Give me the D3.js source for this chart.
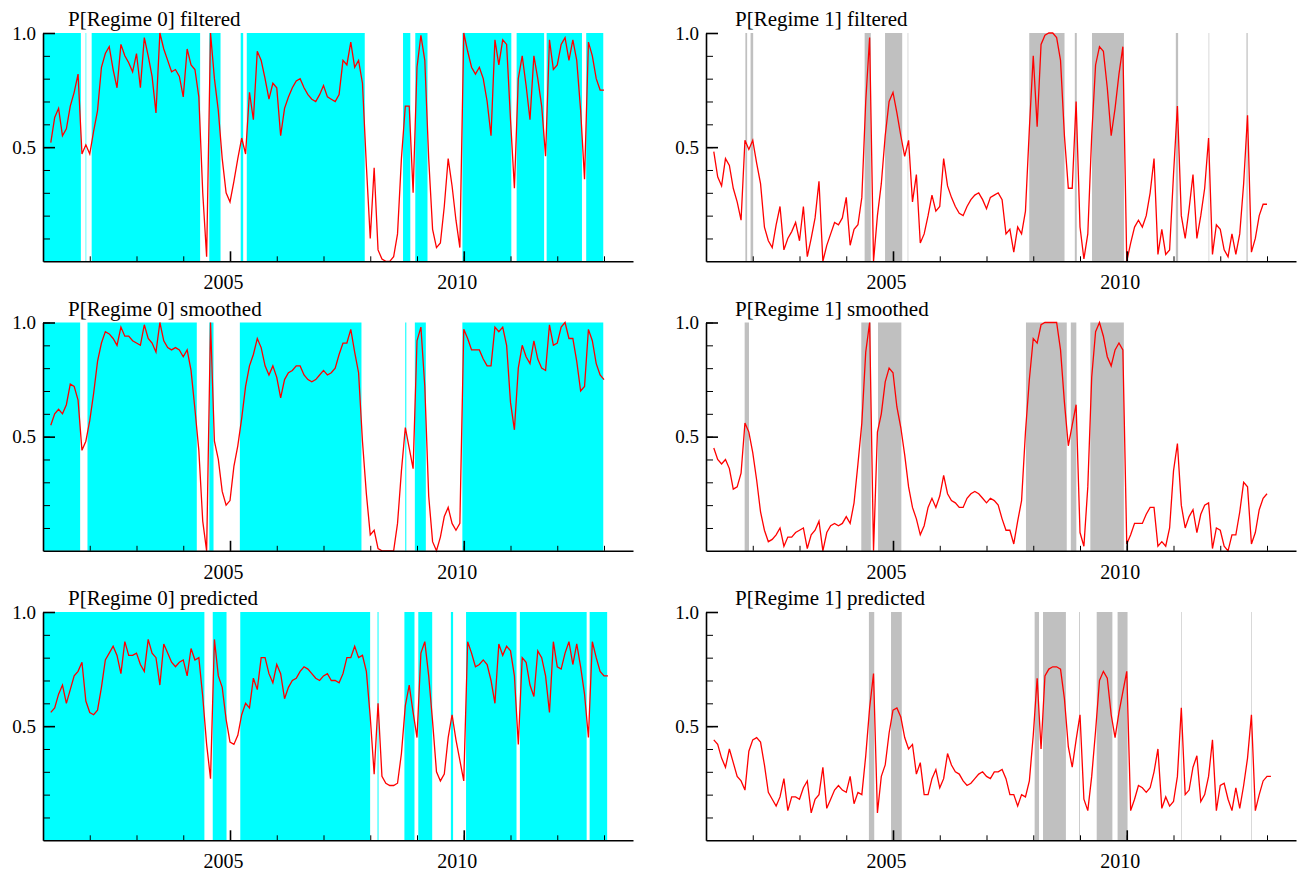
<!DOCTYPE html>
<html>
<head>
<meta charset="utf-8">
<script src="https://cdn.jsdelivr.net/npm/d3@7"></script>
<style>
  body { margin: 0; background: #fff; }
  text { font-family: "Liberation Serif", "Times New Roman", serif; fill: #000; }
</style>
</head>
<body>
<div id="plot"></div>
<script>
// monthly observations, first one is 2001(3)
const firstYear = 2001, firstMonth = 3;

const filtered0 = [
  0.52,0.63,0.67,0.55,0.58,0.68,0.74,0.82,0.47,0.51,
  0.47,0.57,0.66,0.85,0.91,0.94,0.84,0.76,0.95,0.90,
  0.87,0.83,0.91,0.76,0.98,0.90,0.81,0.65,1.00,0.93,
  0.88,0.83,0.84,0.81,0.72,0.93,0.86,0.84,0.72,0.30,
  0.02,1.00,0.80,0.66,0.45,0.30,0.26,0.35,0.45,0.54,
  0.47,0.74,0.62,0.92,0.88,0.80,0.71,0.78,0.76,0.55,
  0.67,0.72,0.76,0.79,0.80,0.76,0.73,0.71,0.70,0.73,
  0.77,0.72,0.71,0.70,0.73,0.88,0.86,0.96,0.85,0.88,
  0.78,0.42,0.10,0.41,0.05,0.01,0.00,0.00,0.02,0.12,
  0.45,0.68,0.68,0.30,0.85,0.99,0.88,0.45,0.14,0.06,
  0.08,0.24,0.45,0.33,0.18,0.06,1.00,0.92,0.85,0.82,
  0.85,0.80,0.70,0.55,0.97,0.86,0.97,0.95,0.62,0.32,
  0.80,0.90,0.77,0.62,0.90,0.80,0.68,0.46,0.97,0.84,
  0.86,0.95,0.98,0.88,0.97,0.88,0.66,0.36,0.96,0.90,
  0.80,0.75,0.75
];
const filtered1 = [
  0.48,0.37,0.33,0.45,0.42,0.32,0.26,0.18,0.53,0.49,
  0.53,0.43,0.34,0.15,0.09,0.06,0.16,0.24,0.05,0.10,
  0.13,0.17,0.09,0.24,0.02,0.10,0.19,0.35,0.00,0.07,
  0.12,0.17,0.16,0.19,0.28,0.07,0.14,0.16,0.28,0.70,
  0.98,0.00,0.20,0.34,0.55,0.70,0.74,0.65,0.55,0.46,
  0.53,0.26,0.38,0.08,0.12,0.20,0.29,0.22,0.24,0.45,
  0.33,0.28,0.24,0.21,0.20,0.24,0.27,0.29,0.30,0.27,
  0.23,0.28,0.29,0.30,0.27,0.12,0.14,0.04,0.15,0.12,
  0.22,0.58,0.90,0.59,0.95,0.99,1.00,1.00,0.98,0.88,
  0.55,0.32,0.32,0.70,0.15,0.01,0.12,0.55,0.86,0.94,
  0.92,0.76,0.55,0.67,0.82,0.94,0.00,0.08,0.15,0.18,
  0.15,0.20,0.30,0.45,0.03,0.14,0.03,0.05,0.38,0.68,
  0.20,0.10,0.23,0.38,0.10,0.20,0.32,0.54,0.03,0.16,
  0.14,0.05,0.02,0.12,0.03,0.12,0.34,0.64,0.04,0.10,
  0.20,0.25,0.25
];

const smoothed0 = [
  0.55,0.60,0.62,0.60,0.64,0.73,0.72,0.66,0.44,0.48,
  0.57,0.69,0.83,0.91,0.96,0.95,0.93,0.90,0.98,0.94,
  0.94,0.92,0.91,0.90,0.99,0.93,0.91,0.87,1.00,0.92,
  0.89,0.88,0.89,0.88,0.85,0.88,0.79,0.62,0.44,0.13,
  0.00,1.00,0.48,0.40,0.26,0.20,0.22,0.37,0.46,0.58,
  0.72,0.81,0.86,0.93,0.89,0.81,0.77,0.81,0.76,0.67,
  0.75,0.78,0.79,0.81,0.81,0.77,0.75,0.74,0.75,0.77,
  0.79,0.77,0.78,0.80,0.86,0.91,0.91,0.97,0.87,0.78,
  0.48,0.25,0.07,0.09,0.01,0.00,0.00,0.00,0.00,0.12,
  0.35,0.54,0.45,0.36,0.92,0.98,0.72,0.24,0.04,0.00,
  0.06,0.15,0.19,0.12,0.09,0.12,0.97,0.93,0.88,0.88,
  0.88,0.84,0.81,0.81,0.98,0.96,0.98,0.90,0.65,0.53,
  0.80,0.90,0.85,0.82,0.92,0.84,0.80,0.79,0.99,0.90,
  0.91,0.98,1.00,0.93,0.93,0.83,0.70,0.72,0.97,0.92,
  0.82,0.77,0.75
];
const smoothed1 = [
  0.45,0.40,0.38,0.40,0.36,0.27,0.28,0.34,0.56,0.52,
  0.43,0.31,0.17,0.09,0.04,0.05,0.07,0.10,0.02,0.06,
  0.06,0.08,0.09,0.10,0.01,0.07,0.09,0.13,0.00,0.08,
  0.11,0.12,0.11,0.12,0.15,0.12,0.21,0.38,0.56,0.87,
  1.00,0.00,0.52,0.60,0.74,0.80,0.78,0.63,0.54,0.42,
  0.28,0.19,0.14,0.07,0.11,0.19,0.23,0.19,0.24,0.33,
  0.25,0.22,0.21,0.19,0.19,0.23,0.25,0.26,0.25,0.23,
  0.21,0.23,0.22,0.20,0.14,0.09,0.09,0.03,0.13,0.22,
  0.52,0.75,0.93,0.91,0.99,1.00,1.00,1.00,1.00,0.88,
  0.65,0.46,0.55,0.64,0.08,0.02,0.28,0.76,0.96,1.00,
  0.94,0.85,0.81,0.88,0.91,0.88,0.03,0.07,0.12,0.12,
  0.12,0.16,0.19,0.19,0.02,0.04,0.02,0.10,0.35,0.47,
  0.20,0.10,0.15,0.18,0.08,0.16,0.20,0.21,0.01,0.10,
  0.09,0.02,0.00,0.07,0.07,0.17,0.30,0.28,0.03,0.08,
  0.18,0.23,0.25
];

// predicted has one extra month at the end
const predicted0 = [
  0.56,0.58,0.64,0.68,0.60,0.66,0.72,0.74,0.78,0.61,
  0.56,0.55,0.57,0.67,0.79,0.82,0.85,0.81,0.73,0.87,
  0.81,0.81,0.82,0.77,0.74,0.88,0.82,0.80,0.68,0.86,
  0.82,0.78,0.76,0.78,0.79,0.72,0.84,0.79,0.80,0.63,
  0.42,0.27,0.88,0.72,0.67,0.53,0.43,0.42,0.46,0.55,
  0.60,0.58,0.71,0.66,0.80,0.80,0.73,0.69,0.77,0.73,
  0.62,0.67,0.70,0.71,0.74,0.76,0.75,0.73,0.71,0.70,
  0.72,0.73,0.70,0.70,0.69,0.73,0.80,0.80,0.85,0.80,
  0.81,0.74,0.54,0.29,0.60,0.28,0.25,0.24,0.24,0.25,
  0.38,0.59,0.68,0.56,0.45,0.82,0.87,0.72,0.52,0.30,
  0.26,0.29,0.45,0.55,0.44,0.35,0.26,0.87,0.82,0.76,
  0.77,0.79,0.77,0.70,0.60,0.86,0.81,0.85,0.83,0.72,
  0.42,0.80,0.78,0.68,0.63,0.83,0.80,0.72,0.56,0.87,
  0.76,0.75,0.82,0.87,0.77,0.86,0.76,0.64,0.45,0.87,
  0.80,0.74,0.72,0.72
];
const predicted1 = [
  0.44,0.42,0.36,0.32,0.40,0.34,0.28,0.26,0.22,0.39,
  0.44,0.45,0.43,0.33,0.21,0.18,0.15,0.19,0.27,0.13,
  0.19,0.19,0.18,0.23,0.26,0.12,0.18,0.20,0.32,0.14,
  0.18,0.22,0.24,0.22,0.21,0.28,0.16,0.21,0.20,0.37,
  0.58,0.73,0.12,0.28,0.33,0.47,0.57,0.58,0.54,0.45,
  0.40,0.42,0.29,0.34,0.20,0.20,0.27,0.31,0.23,0.27,
  0.38,0.33,0.30,0.29,0.26,0.24,0.25,0.27,0.29,0.30,
  0.28,0.27,0.30,0.30,0.31,0.27,0.20,0.20,0.15,0.20,
  0.19,0.26,0.46,0.71,0.40,0.72,0.75,0.76,0.76,0.75,
  0.62,0.41,0.32,0.44,0.55,0.18,0.13,0.28,0.48,0.70,
  0.74,0.71,0.55,0.45,0.56,0.65,0.74,0.13,0.18,0.24,
  0.23,0.21,0.23,0.30,0.40,0.14,0.19,0.15,0.17,0.28,
  0.58,0.20,0.22,0.32,0.37,0.17,0.20,0.28,0.44,0.13,
  0.24,0.25,0.18,0.13,0.23,0.14,0.24,0.36,0.55,0.13,
  0.20,0.26,0.28,0.28
];

const xTickLabels = [2005, 2010];
const yTickLabels = [0.5, 1.0];

const panels = [
  {title: "P[Regime 0] filtered",  values: filtered0,  fill: "#00ffff", col: 0, row: 0},
  {title: "P[Regime 1] filtered",  values: filtered1,  fill: "#c0c0c0", col: 1, row: 0},
  {title: "P[Regime 0] smoothed",  values: smoothed0,  fill: "#00ffff", col: 0, row: 1},
  {title: "P[Regime 1] smoothed",  values: smoothed1,  fill: "#c0c0c0", col: 1, row: 1},
  {title: "P[Regime 0] predicted", values: predicted0, fill: "#00ffff", col: 0, row: 2},
  {title: "P[Regime 1] predicted", values: predicted1, fill: "#c0c0c0", col: 1, row: 2}
];

const width = 1308, height = 875;
const colRange = [[43, 633], [706, 1296]];
const titleDx = [25, 29];
const rowTop = [33, 322.5, 612];
const panelH = 228.3;
const xDomain = [2001, 2013.62];

const svg = d3.select("#plot").append("svg")
  .attr("width", width)
  .attr("height", height);

// where the (linearly joined) probability is above one half
function regimeRuns(vals, times) {
  const runs = [];
  let start = vals[0] > 0.5 ? times[0] : null;
  for (let i = 1; i < vals.length; i++) {
    const a = vals[i - 1] > 0.5, b = vals[i] > 0.5;
    if (a === b) continue;
    const f = (0.5 - vals[i - 1]) / (vals[i] - vals[i - 1]);
    const tc = times[i - 1] + f * (times[i] - times[i - 1]);
    if (b) start = tc;
    else { runs.push([start, tc]); start = null; }
  }
  if (start !== null) runs.push([start, times[times.length - 1]]);
  return runs;
}

panels.forEach(p => {
  const x = d3.scaleLinear().domain(xDomain).range(colRange[p.col]);
  const y = d3.scaleLinear().domain([0, 1]).range([rowTop[p.row] + panelH, rowTop[p.row]]);
  const times = p.values.map((v, i) => firstYear + (firstMonth - 1 + i) / 12);

  const g = svg.append("g");

  const left = d => (d[0] === times[0] ? x(xDomain[0]) : x(d[0]) + 0.75);
  const runs = regimeRuns(p.values, times);
  g.selectAll("rect.shade")
    .data(runs)
    .join("rect")
      .attr("class", "shade")
      .attr("x", left)
      .attr("y", y(1))
      .attr("width", d => Math.max(0.6, x(d[1]) - 0.75 - left(d)))
      .attr("height", y(0) - y(1))
      .attr("fill", p.fill);

  const line = d3.line()
    .x((d, i) => x(times[i]))
    .y(d => y(d));

  g.append("path")
    .datum(p.values)
    .attr("d", line)
    .attr("fill", "none")
    .attr("stroke", "#ff0000")
    .attr("stroke-width", 1.3);

  // x axis: yearly minor ticks, labelled majors
  g.append("g")
    .attr("transform", `translate(0,${y(0)})`)
    .call(d3.axisBottom(x)
      .tickValues(d3.range(2002, 2014))
      .tickSizeInner(-5)
      .tickSizeOuter(0)
      .tickFormat(""))
    .call(a => a.select(".domain").attr("stroke-width", 1.6));

  g.append("g")
    .attr("transform", `translate(0,${y(0)})`)
    .call(d3.axisBottom(x)
      .tickValues(xTickLabels)
      .tickSizeInner(-10)
      .tickSizeOuter(0)
      .tickFormat(d3.format("d")))
    .call(a => a.select(".domain").remove())
    .call(a => a.selectAll(".tick line").attr("stroke-width", 1.6))
    .call(a => a.selectAll("text")
      .attr("y", 28).attr("dy", null).attr("x", -7)
      .style("font-size", "20px"));

  // y axis
  g.append("g")
    .attr("transform", `translate(${x(xDomain[0])},0)`)
    .call(d3.axisLeft(y)
      .tickValues(d3.range(1, 11).map(k => k / 10))
      .tickSizeInner(-7)
      .tickSizeOuter(0)
      .tickFormat(""))
    .call(a => a.select(".domain").attr("stroke-width", 1.6));

  g.append("g")
    .attr("transform", `translate(${x(xDomain[0])},0)`)
    .call(d3.axisLeft(y)
      .tickValues(yTickLabels)
      .tickSizeInner(-12)
      .tickSizeOuter(0)
      .tickPadding(7)
      .tickFormat(d3.format(".1f")))
    .call(a => a.select(".domain").remove())
    .call(a => a.selectAll(".tick line").attr("stroke-width", 1.6))
    .call(a => a.selectAll("text").style("font-size", "19px"));

  g.append("text")
    .attr("x", x(xDomain[0]) + titleDx[p.col])
    .attr("y", rowTop[p.row] - 7)
    .style("font-size", "21px")
    .text(p.title);
});
</script>
</body>
</html>
